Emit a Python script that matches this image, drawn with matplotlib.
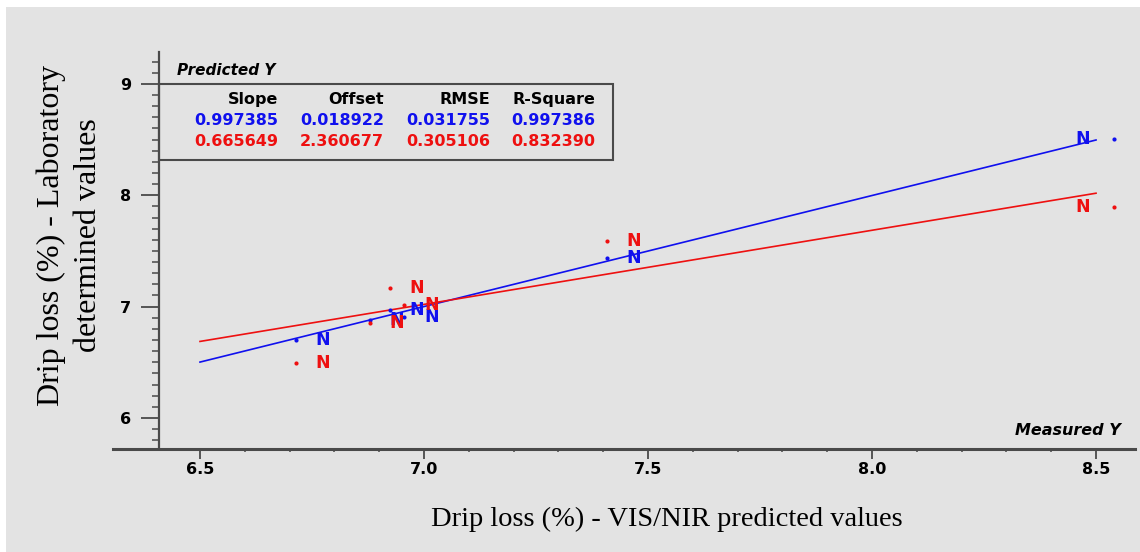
import matplotlib.pyplot as plt
from matplotlib.patches import Rectangle
from matplotlib.lines import Line2D
from matplotlib.ticker import MultipleLocator

# Mediciones (eje x) y predicciones de calibración (azul) y validación (rojo)
medido = [6.714, 6.879, 6.923, 6.956, 7.408, 8.540]
pred_cal = [6.700, 6.880, 6.970, 6.910, 7.440, 8.506]
pred_val = [6.497, 6.856, 7.170, 7.015, 7.592, 7.893]
etiquetas = ['N', 'N', 'N', 'N', 'N', 'N']

# Estadísticos de la regresión
columnas = ['Slope', 'Offset', 'RMSE', 'R-Square']
stats_cal = [0.997385, 0.018922, 0.031755, 0.997386]
stats_val = [0.665649, 2.360677, 0.305106, 0.832390]

# Marcas del eje x
xticks = [6.5, 7.0, 7.5, 8.0, 8.5]
xtick_labels = ['6.5', '7.0', '7.5', '8.0', '8.5']

azul = '#1010ee'
rojo = '#ee1010'
gris = '#4a4a4a'
fondo = '#e3e3e3'

# casi todo el texto del gráfico va en negrita
plt.rcParams['font.weight'] = 'bold'

fig = plt.figure(figsize=(11.4, 5.52), dpi=100, facecolor='white')
fig.patches.append(Rectangle((6 / 1140, 0), 1, 1 - 7 / 552, transform=fig.transFigure,
                             facecolor=fondo, edgecolor='none', zorder=-10))

ax = fig.add_axes([159 / 1140, 1 - 448.7 / 552, 976 / 1140, 396.7 / 552])
ax.set_facecolor('none')
ax.set_xlim(6.4085, 8.587)
ax.set_ylim(5.724, 9.287)

for lado in ['top', 'right', 'bottom']:
    ax.spines[lado].set_visible(False)
ax.spines['left'].set_color(gris)
ax.spines['left'].set_linewidth(1.6)

# eje x prolongado hacia la izquierda
fig.add_artist(Line2D([113 / 1140, 1135 / 1140], [1 - 448.7 / 552] * 2,
                      transform=fig.transFigure, color=gris, lw=2.2))

ax.set_xticks(xticks)
ax.set_xticklabels(xtick_labels)
ax.xaxis.set_minor_locator(MultipleLocator(0.1))
ax.yaxis.set_major_locator(MultipleLocator(1))
ax.yaxis.set_minor_locator(MultipleLocator(0.1))
ax.tick_params(axis='y', which='major', length=13, width=1.3, color=gris, pad=7,
               labelsize=11.5)
ax.tick_params(axis='y', which='minor', length=5, width=1.1, color=gris)
ax.tick_params(axis='x', which='major', length=7, width=1.3, color=gris, pad=2.5,
               labelsize=11.5)
ax.tick_params(axis='x', which='minor', length=2.5, width=1.1, color=gris)

# rectas de regresión entre 6.5 y 8.5
xs = [6.5, 8.5]
ax.plot(xs, [stats_cal[0] * x + stats_cal[1] for x in xs], color=azul, lw=1.2)
ax.plot(xs, [stats_val[0] * x + stats_val[1] for x in xs], color=rojo, lw=1.2)

# puntos y nombres de muestra
for serie, color in [(pred_cal, azul), (pred_val, rojo)]:
    ax.plot(medido, serie, 'o', color=color, ms=3, mec='none')
    for x, y, et in zip(medido, serie, etiquetas):
        dx = -31 if x > 8.4 else 27
        ax.annotate(et, (x, y), xytext=(dx, 0), textcoords='offset pixels',
                    ha='center', va='center', color=color, fontsize=12.5)

# recuadro con los estadísticos
ax.add_patch(Rectangle((0, 0.7278), 0.4649, 0.9193 - 0.7278, transform=ax.transAxes,
                       fill=False, edgecolor=gris, lw=1.5, clip_on=False))
ax.text(0.0184, 0.953, 'Predicted Y', transform=ax.transAxes, fontsize=11,
        style='italic', va='center', ha='left')
xcol = [0.1219, 0.2305, 0.3391, 0.4467]
for i, nombre in enumerate(columnas):
    ax.text(xcol[i], 0.8810, nombre, transform=ax.transAxes, fontsize=11.5,
            ha='right', va='center')
    ax.text(xcol[i], 0.8263, f'{stats_cal[i]:.6f}', transform=ax.transAxes,
            fontsize=11.5, ha='right', va='center', color=azul)
    ax.text(xcol[i], 0.7739, f'{stats_val[i]:.6f}', transform=ax.transAxes,
            fontsize=11.5, ha='right', va='center', color=rojo)

ax.text(0.9857, 0.047, 'Measured Y', transform=ax.transAxes, fontsize=11.5,
        style='italic', ha='right', va='center')

# títulos de los ejes
fig.text(70 / 1140, 1 - 235 / 552, 'Drip loss (%) - Laboratory\ndetermined values',
         rotation=90, ha='center', va='center', family='Liberation Serif',
         fontweight='normal', fontsize=23, linespacing=1.35)
fig.text(667 / 1140, 1 - 519 / 552, 'Drip loss (%) - VIS/NIR predicted values',
         ha='center', va='center', family='Liberation Serif', fontweight='normal',
         fontsize=20.5)

fig.savefig('out.png', dpi=100, facecolor=fig.get_facecolor())
